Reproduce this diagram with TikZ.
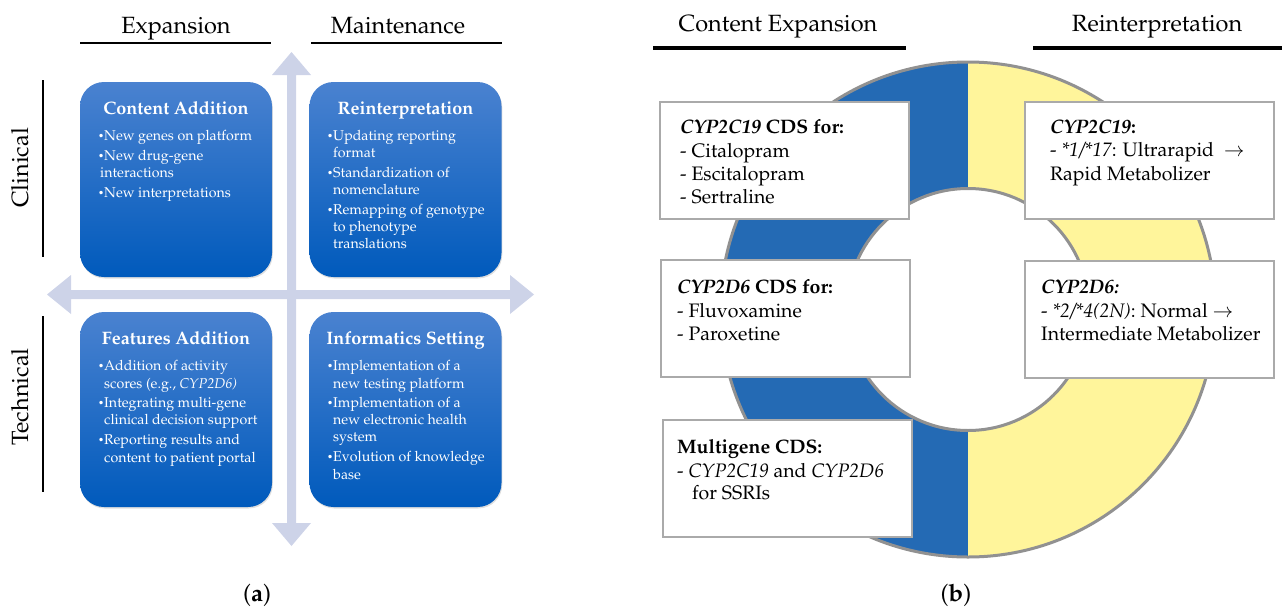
\documentclass[tikz,border=0pt]{standalone}
\usepackage[T1]{fontenc}
\usepackage{mathpazo}
\usetikzlibrary{shadows}
\definecolor{arrowc}{RGB}{205,211,232}
\definecolor{boxtop}{RGB}{74,130,208}
\definecolor{boxbot}{RGB}{0,90,188}
\definecolor{ringblue}{RGB}{36,106,180}
\definecolor{ringyellow}{RGB}{255,245,155}
\definecolor{ringgray}{RGB}{145,145,145}
\definecolor{boxgray}{RGB}{170,170,170}
\newcommand{\fsz}[2]{\fontsize{#1}{#2}\selectfont}
\newcommand{\bul}{\makebox[6pt][l]{\raisebox{1pt}{\fsz{10}{10}\textbullet}}}
\tikzset{
  hdr/.style={font=\fsz{23.5}{28}, inner sep=0pt, anchor=base},
  qbox/.style={rounded corners=24pt, top color=boxtop, bottom color=boxbot,
    minimum width=192pt, minimum height=195pt, inner sep=0pt,
    drop shadow={opacity=0.25, shadow xshift=0.8pt, shadow yshift=-1.5pt}},
  qtitle/.style={font=\bfseries\fsz{18}{21}, text=white, inner sep=0pt, anchor=base},
  qline/.style={font=\fsz{14.2}{17}, text=white, inner sep=0pt, anchor=base west},
  cbox/.style={draw=boxgray, line width=2pt, fill=white,
    minimum width=249pt, minimum height=117pt, inner sep=0pt},
  cline/.style={font=\fsz{19.5}{23}, inner sep=0pt, anchor=base west},
  captxt/.style={font=\fsz{24}{28}, inner sep=0pt, anchor=base},
  rule/.style={line width=2pt},
  brule/.style={line width=3.5pt},
}
\begin{document}
\begin{tikzpicture}[x=1pt,y=-1pt]
\useasboundingbox (0,0) rectangle (1282,613);

% ---------------- panel (a) ----------------
\node[hdr] (hexp) at (176,33) {Expansion};
\node[hdr] (hmnt) at (398,33) {Maintenance};
\coordinate (uexpL) at (80,43);  \coordinate (uexpR) at (271,43);
\coordinate (umntL) at (311,43); \coordinate (umntR) at (502,43);
\draw[rule] (uexpL) -- (uexpR);
\draw[rule] (umntL) -- (umntR);

\node[hdr, anchor=center, rotate=90] (hcli) at (20,168) {Clinical};
\node[hdr, anchor=center, rotate=90] (htec) at (20,397) {Technical};
\coordinate (lcT) at (43,80);  \coordinate (lcB) at (43,257);
\coordinate (ltT) at (43,316); \coordinate (ltB) at (43,492);
\draw[rule] (lcT) -- (lcB);
\draw[rule] (ltT) -- (ltB);

% cross arrows
\fill[arrowc] (47,294.5) -- (71,275) -- (71,290) -- (510,290) -- (510,275) -- (534,294.5)
  -- (510,314) -- (510,299) -- (71,299) -- (71,314) -- cycle;
\fill[arrowc] (291.5,52) -- (311,75) -- (296,75) -- (296,523) -- (311,523) -- (291.5,546)
  -- (272,523) -- (287,523) -- (287,75) -- (272,75) -- cycle;

% boxes
\node[qbox] (ca) at (176,179.5) {};
\node[qbox] (ri) at (405.5,179.5) {};
\node[qbox] (fa) at (176,409.5) {};
\node[qbox] (is) at (405.5,409.5) {};

\node[qtitle] (caT) at (176,114) {Content Addition};
\node[qline] (ca1) at (98,140) {\bul New genes on platform};
\node[qline] (ca2) at (98,160) {\bul New drug-gene};
\node[qline] (ca3) at (100,177) {interactions};
\node[qline] (ca4) at (98,197) {\bul New interpretations};

\node[qtitle] (riT) at (405.5,114) {Reinterpretation};
\node[qline] (ri1) at (327,140) {\bul Updating reporting};
\node[qline] (ri2) at (333,157) {format};
\node[qline] (ri3) at (327,177) {\bul Standardization of};
\node[qline] (ri4) at (333,194) {nomenclature};
\node[qline] (ri5) at (327,214) {\bul Remapping of genotype};
\node[qline] (ri6) at (333,231) {to phenotype};
\node[qline] (ri7) at (333,248) {translations};

\node[qtitle] (faT) at (176,344) {Features Addition};
\node[qline] (fa1) at (98,370) {\bul Addition of activity};
\node[qline] (fa2) at (104,388) {scores (e.g., \textit{CYP2D6)}};
\node[qline] (fa3) at (98,407) {\bul Integrating multi-gene};
\node[qline] (fa4) at (104,424) {clinical decision support};
\node[qline] (fa5) at (98,444) {\bul Reporting results and};
\node[qline] (fa6) at (104,462) {content to patient portal};

\node[qtitle] (isT) at (405.5,344) {Informatics Setting};
\node[qline] (is1) at (327,370) {\bul Implementation of a};
\node[qline] (is2) at (333,388) {new testing platform};
\node[qline] (is3) at (327,407) {\bul Implementation of a};
\node[qline] (is4) at (333,424) {new electronic health};
\node[qline] (is5) at (333,441) {system};
\node[qline] (is6) at (327,461) {\bul Evolution of knowledge};
\node[qline] (is7) at (333,479) {base};

\node[captxt] (capa) at (257,601) {(\textbf{a})};

% ---------------- panel (b) ----------------
\node[hdr] (hce) at (778,31) {Content Expansion};
\node[hdr] (hre) at (1157,31) {Reinterpretation};
\coordinate (uceL) at (653,48);  \coordinate (uceR) at (906,48);
\coordinate (ureL) at (1033,48); \coordinate (ureR) at (1282,48);
\draw[brule] (uceL) -- (uceR);
\draw[brule] (ureL) -- (ureR);

\coordinate (rc) at (968,309.5);
\begin{scope}
  \clip (680,40) rectangle (968,580);
  \fill[ringblue] (rc) circle[radius=247.5];
\end{scope}
\begin{scope}
  \clip (968,40) rectangle (1260,580);
  \fill[ringyellow] (rc) circle[radius=247.5];
\end{scope}
\fill[white] (rc) circle[radius=121];
\draw[ringgray, line width=3pt] (rc) circle[radius=247.5];
\draw[ringgray, line width=3pt] (rc) circle[radius=121];

\node[cbox] (b1) at (784.5,160.5) {};
\node[cbox] (b2) at (785.5,318) {};
\node[cbox] (b3) at (787,478) {};
\node[cbox] (b4) at (1149,160) {};
\node[cbox] (b5) at (1149.5,319.5) {};

\node[cline] (b1a) at (680,133) {\textbf{\textit{CYP2C19} CDS for:}};
\node[cline] (b1b) at (680,157) {- Citalopram};
\node[cline] (b1c) at (680,180) {- Escitalopram};
\node[cline] (b1d) at (680,203) {- Sertraline};

\node[cline] (b2a) at (677,293) {\textbf{\textit{CYP2D6} CDS for:}};
\node[cline] (b2b) at (677,317) {- Fluvoxamine};
\node[cline] (b2c) at (677,340) {- Paroxetine};

\node[cline] (b3a) at (677,453) {\textbf{Multigene CDS:}};
\node[cline] (b3b) at (677,477) {- \textit{CYP2C19} and \textit{CYP2D6}};
\node[cline] (b3c) at (692,499) {for SSRIs};

\node[cline] (b4a) at (1050,133) {\textbf{\textit{CYP2C19}:}};
\node[cline] (b4b) at (1050,156) {- \textit{*1/*17}: Ultrarapid\enspace$\rightarrow$};
\node[cline] (b4c) at (1050,180) {Rapid Metabolizer};

\node[cline] (b5a) at (1041,293) {\textbf{\textit{CYP2D6:}}};
\node[cline] (b5b) at (1041,317) {- \textit{*2/*4(2N)}: Normal $\rightarrow$};
\node[cline] (b5c) at (1041,340) {Intermediate Metabolizer};

\node[captxt] (capb) at (956,601) {(\textbf{b})};
\end{tikzpicture}
\end{document}
